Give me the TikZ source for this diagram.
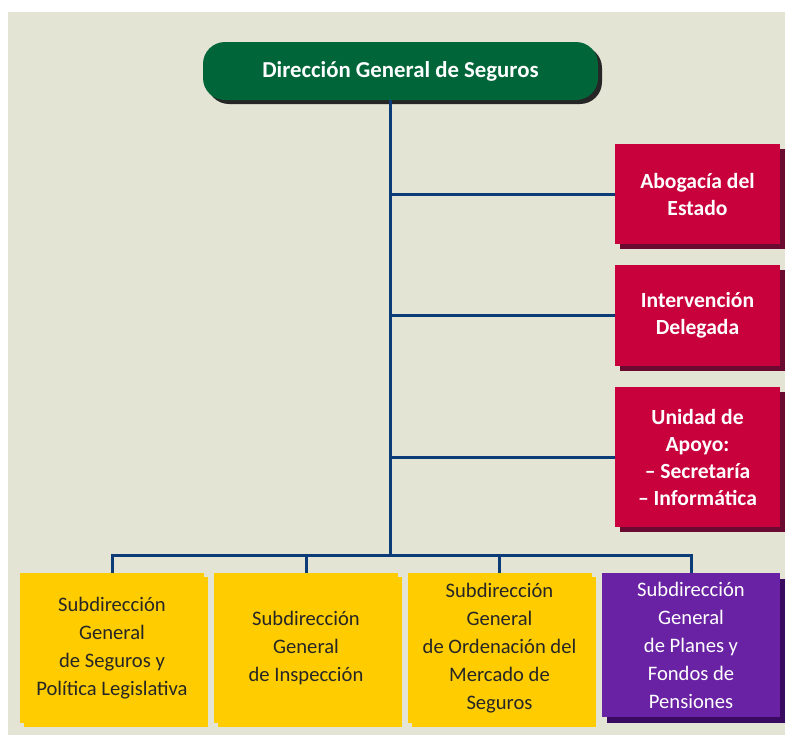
\documentclass[tikz,border=0pt]{standalone}
\usepackage{fontspec}
\setmainfont{Carlito}
\usetikzlibrary{shadows}

\definecolor{fondo}{HTML}{E4E4D4}
\definecolor{verde}{HTML}{00663A}
\definecolor{rojo}{HTML}{C8003C}
\definecolor{rojosombra}{HTML}{6A0A30}
\definecolor{amarillo}{HTML}{FFCC00}
\definecolor{morado}{HTML}{6A22A4}
\definecolor{moradosombra}{HTML}{3A0A60}
\definecolor{linea}{HTML}{0B3C78}

\begin{document}
\begin{tikzpicture}[x=0.5pt, y=-0.5pt,
    conector/.style={draw=linea, line width=1.5pt},
    direccion/.style={fill=verde, rounded corners=11pt, text=white,
        minimum width=197.5pt, minimum height=29pt, inner sep=0pt,
        font=\bfseries\fontsize{11.4}{13}\selectfont,
        general shadow={fill=black!85, shadow xshift=2pt, shadow yshift=-2pt}},
    staff/.style={fill=rojo, text=white, align=center,
        minimum width=82.5pt, inner sep=0pt,
        font=\bfseries\fontsize{10.8}{13.5}\selectfont,
        general shadow={fill=rojosombra, shadow xshift=2.5pt, shadow yshift=-2.5pt}},
    subdir/.style={fill=amarillo, text=black!85, align=center,
        minimum width=92pt, minimum height=75pt, inner sep=0pt,
        font=\fontsize{10.3}{14}\selectfont,
        general shadow={fill=amarillo, shadow xshift=2pt, shadow yshift=-2pt}},
    pensiones/.style={fill=morado, text=white, align=center,
        minimum width=89pt, minimum height=72pt, inner sep=0pt,
        font=\fontsize{10.3}{14}\selectfont,
        general shadow={fill=moradosombra, shadow xshift=2.5pt, shadow yshift=-3pt}}]

    \useasboundingbox (0,0) rectangle (785,735);
    \fill[fondo] (8,12) rectangle (785,735);

    \node[direccion] (dgs) at (400.5,71) {Dirección General de Seguros};

    \node[staff, minimum height=50pt] (abogacia) at (697.5,194)
        {Abogacía del\\Estado};
    \node[staff, minimum height=50.5pt] (intervencion) at (697.5,315)
        {Intervención\\Delegada};
    \node[staff, minimum height=70pt] (apoyo) at (697.5,457)
        {Unidad de\\Apoyo:\\– Secretaría\\– Informática};

    \node[subdir] (seguros) at (112,648)
        {Subdirección\\General\\de Seguros y\\Política Legislativa};
    \node[subdir] (inspeccion) at (306,648)
        {Subdirección\\General\\de Inspección};
    \node[subdir] (mercado) at (499.5,648)
        {Subdirección\\General\\de Ordenación del\\Mercado de\\Seguros};
    \node[pensiones] (planes) at (691,645)
        {Subdirección\\General\\de Planes y\\Fondos de\\Pensiones};

    \coordinate (bus) at (390,555);

    % tronco y ramas
    \draw[conector] (dgs.south -| bus) -- (bus);
    \draw[conector] (abogacia.west -| bus) -- (abogacia.west);
    \draw[conector] (intervencion.west -| bus) -- (intervencion.west);
    \draw[conector] (apoyo.west -| bus) -- (apoyo.west);

    \draw[conector] (seguros.north) |- (bus) -| (planes.north);
    \draw[conector] (inspeccion.north) -- (inspeccion.north |- bus);
    \draw[conector] (mercado.north) -- (mercado.north |- bus);
\end{tikzpicture}
\end{document}
